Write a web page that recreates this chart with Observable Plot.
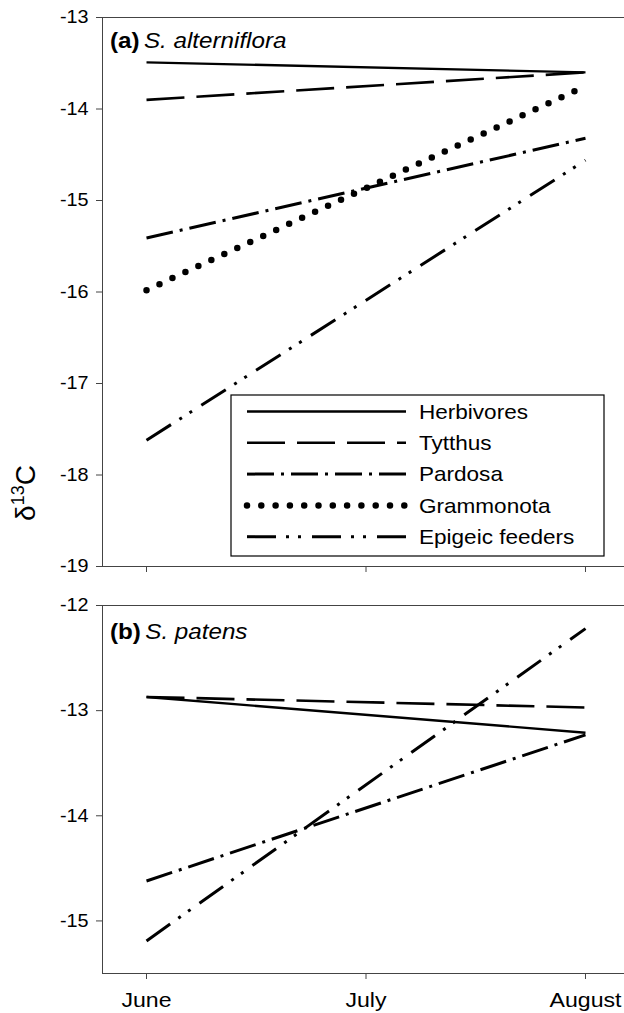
<!DOCTYPE html>
<html><head><meta charset="utf-8">
<script src="https://cdn.jsdelivr.net/npm/d3@7"></script>
<script src="https://cdn.jsdelivr.net/npm/@observablehq/plot@0.6"></script>
<style>
body{margin:0;background:#fff;}
#chart svg{display:block;background:#fff;}
</style>
</head><body><div id="chart"></div>
<script>
// ---- data ----
const months = ["June", "July", "August"];
const monthIndex = [0, 1, 2];
const groupsA = ["Herbivores", "Tytthus", "Pardosa", "Grammonota", "Epigeic feeders"];
const juneA = [-13.49, -13.90, -15.41, -15.98, -17.62];
const augustA = [-13.60, -13.60, -14.32, -13.75, -14.56];
const groupsB = ["Herbivores", "Tytthus", "Pardosa", "Epigeic feeders"];
const juneB = [-12.87, -12.87, -14.62, -15.19];
const augustB = [-13.21, -12.97, -13.23, -12.22];
const yTicksA = [-13, -14, -15, -16, -17, -18, -19];
const yTicksB = [-12, -13, -14, -15];
const legendOrder = ["Herbivores", "Tytthus", "Pardosa", "Grammonota", "Epigeic feeders"];

// ---- styles ----
const lineStyle = {
  "Herbivores": {dash: null, width: 2.4, cap: "butt"},
  "Tytthus": {dash: "38,12", width: 2.6, cap: "butt"},
  "Pardosa": {dash: "27,7,3,7", width: 3, cap: "butt"},
  "Grammonota": {dash: "0,14.3", width: 6.5, cap: "round"},
  "Epigeic feeders": {dash: "29,10,3,9,3,11", width: 3, cap: "butt"}
};
const FONT = "'Liberation Sans', Arial, Helvetica, sans-serif";
const STRETCH = 1.1;
const AXIS_COLOR = "#444";

function table(groups, june, august) {
  const rows = [];
  groups.forEach((g, i) => {
    rows.push({group: g, m: monthIndex[0], v: june[i]});
    rows.push({group: g, m: monthIndex[2], v: august[i]});
  });
  return rows;
}

function panel({groups, june, august, yDomain, yTicks, height, marginTop, marginBottom, showX}) {
  const data = table(groups, june, august);
  const lines = groups.map(g => Plot.line(data.filter(d => d.group === g), {
    x: "m", y: "v", stroke: "black",
    strokeWidth: lineStyle[g].width,
    strokeDasharray: lineStyle[g].dash || undefined,
    strokeLinecap: lineStyle[g].cap
  }));
  return Plot.plot({
    width: 624, height, marginLeft: 102, marginRight: 0, marginTop, marginBottom,
    style: {fontFamily: FONT, background: "#fff", overflow: "visible"},
    x: {domain: [-0.2005, 2.1777]},
    y: {domain: yDomain},
    marks: [
      Plot.ruleY([yDomain[1]], {stroke: AXIS_COLOR, strokeWidth: 1}),
      Plot.ruleY([yDomain[0]], {stroke: AXIS_COLOR, strokeWidth: 1}),
      Plot.ruleX([-0.2005], {stroke: AXIS_COLOR, strokeWidth: 1}),
      Plot.axisY({ticks: yTicks, tickSize: 6, tickPadding: 8, fontSize: 18, stroke: AXIS_COLOR,
        tickFormat: d => String(d), label: null}),
      Plot.axisX({ticks: monthIndex, tickSize: 6, tickPadding: 13, fontSize: 21, stroke: AXIS_COLOR,
        tickFormat: showX ? (d => months[d]) : (() => ""), label: null}),
      ...lines
    ]
  });
}

const svgA = panel({groups: groupsA, june: juneA, august: augustA, yDomain: [-19, -13], yTicks: yTicksA,
  height: 580, marginTop: 17, marginBottom: 14, showX: false});
const svgB = panel({groups: groupsB, june: juneB, august: augustB, yDomain: [-15.5, -12], yTicks: yTicksB,
  height: 433, marginTop: 25, marginBottom: 40, showX: true});

// stretch plot texts horizontally to match reference glyph proportions
for (const svg of [svgA, svgB]) {
  svg.querySelectorAll("text").forEach(t => {
    const tr = t.getAttribute("transform") || "";
    t.setAttribute("transform", tr + ` scale(${STRETCH},1)`);
  });
}

document.getElementById("chart").append(svgA, svgB);

// panel titles
function panelTitle(svg, letter, species, y) {
  const t = d3.select(svg).append("text")
    .attr("transform", `translate(110,${y}) scale(${STRETCH},1)`)
    .attr("text-anchor", "start")
    .attr("font-family", FONT).attr("font-size", 22).attr("fill", "black");
  t.append("tspan").attr("font-weight", "bold").text(`(${letter})`);
  t.append("tspan").attr("font-style", "italic").attr("dx", 4).text(species);
}
panelTitle(svgA, "a", "S. alterniflora", 48);
panelTitle(svgB, "b", "S. patens", 59);

// y-axis title
{
  const t = d3.select(svgA).append("text")
    .attr("transform", `translate(35,493) rotate(-90)`)
    .attr("text-anchor", "middle")
    .attr("font-family", FONT).attr("font-size", 28).attr("fill", "black");
  t.append("tspan").text("δ");
  t.append("tspan").attr("font-size", 18).attr("dy", -11).text("13");
  t.append("tspan").attr("dy", 11).text("C");
}

// legend
{
  const g = d3.select(svgA).append("g");
  g.append("rect").attr("x", 231).attr("y", 395).attr("width", 373).attr("height", 161)
    .attr("fill", "white").attr("stroke", "black").attr("stroke-width", 1.2);
  legendOrder.forEach((name, i) => {
    const y = 411.5 + i * 31.3;
    const s = lineStyle[name];
    g.append("line").attr("x1", 247).attr("x2", 406).attr("y1", y).attr("y2", y)
      .attr("stroke", "black").attr("stroke-width", s.width)
      .attr("stroke-dasharray", s.dash).attr("stroke-linecap", s.cap);
    g.append("text").attr("transform", `translate(419,${y}) scale(${STRETCH},1)`)
      .attr("text-anchor", "start")
      .attr("dy", "0.35em").attr("font-family", FONT).attr("font-size", 20.5).text(name);
  });
}
</script>
</body></html>
